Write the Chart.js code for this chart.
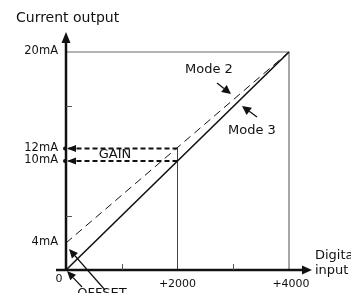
<!DOCTYPE html>
<html>
<head>
<meta charset="utf-8">
<script src="https://cdn.jsdelivr.net/npm/chart.js@4.4.1/dist/chart.umd.min.js"></script>
<style>
  html, body { margin: 0; padding: 0; background: #fff; }
</style>
</head>
<body>
<canvas id="chart" width="351" height="293"></canvas>
<script>
// digital input range and output current (mA) for each mode
const inputRange = [0, 4000];
const mode2Output = [4, 20];
const mode3Output = [0, 20];
const gainInput = 2000;
const gainOutputs = [12, 10];

const xTickValues = [0, 2000, 4000];
const xTickLabels = ['0', '+2000', '+4000'];
const xMinorTicks = [1000, 3000];
const yTickValues = [4, 10, 12, 20];
const yTickLabels = ['4mA', '10mA', '12mA', '20mA'];
const yMinorTicks = [6, 15.5];

// the y axis of the drawing is schematic, not to scale
const yStopValues = [0, 4, 10, 12, 20];
const yStopFractions = [0, 0.124, 0.5, 0.557, 1];

const FONT = '"DejaVu Sans", sans-serif';

class SchematicScale extends Chart.LinearScale {
    getPixelForValue(value) {
        if (value === null || isNaN(value)) return NaN;
        let dec = 0;
        for (let i = 1; i < yStopValues.length; i++) {
            if (value <= yStopValues[i] || i === yStopValues.length - 1) {
                const v0 = yStopValues[i - 1], v1 = yStopValues[i];
                const f0 = yStopFractions[i - 1], f1 = yStopFractions[i];
                dec = f0 + (f1 - f0) * (value - v0) / (v1 - v0);
                break;
            }
        }
        return this.getPixelForDecimal(dec);
    }
}
SchematicScale.id = 'schematic';
SchematicScale.defaults = {};
Chart.register(SchematicScale);

function pts(xs, ys) {
    return xs.map((x, i) => ({ x: x, y: ys[i] }));
}

function arrow(ctx, x1, y1, x2, y2, len, half, lw) {
    const ang = Math.atan2(y2 - y1, x2 - x1);
    const bx = x2 - Math.cos(ang) * len, by = y2 - Math.sin(ang) * len;
    if (lw) {
        ctx.lineWidth = lw;
        ctx.beginPath();
        ctx.moveTo(x1, y1);
        ctx.lineTo(bx, by);
        ctx.stroke();
    }
    ctx.beginPath();
    ctx.moveTo(x2, y2);
    ctx.lineTo(bx + Math.sin(ang) * half, by - Math.cos(ang) * half);
    ctx.lineTo(bx - Math.sin(ang) * half, by + Math.cos(ang) * half);
    ctx.closePath();
    ctx.fill();
}

const overlay = {
    id: 'overlay',
    afterDatasetsDraw(chart) {
        const { ctx, chartArea: a, scales: { x, y } } = chart;
        const x0 = x.getPixelForValue(0), y0 = y.getPixelForValue(0);
        ctx.save();
        ctx.strokeStyle = '#111';
        ctx.fillStyle = '#111';

        // axes with arrows
        arrow(ctx, x0, y0 + 1, x0, a.top - 20, 11, 4.5, 2.5);
        arrow(ctx, x0 - 10, y0, a.right + 23, y0, 10, 4.5, 2.5);

        // minor ticks
        ctx.lineWidth = 1;
        ctx.strokeStyle = '#555';
        xMinorTicks.forEach(v => {
            const px = Math.round(x.getPixelForValue(v)) + 0.5;
            ctx.beginPath(); ctx.moveTo(px, y0 - 6); ctx.lineTo(px, y0); ctx.stroke();
        });
        yMinorTicks.forEach(v => {
            const py = Math.round(y.getPixelForValue(v)) + 0.5;
            ctx.beginPath(); ctx.moveTo(x0, py); ctx.lineTo(x0 + 6, py); ctx.stroke();
        });

        // gain arrows pointing to the axis
        ctx.strokeStyle = '#111';
        ctx.fillStyle = '#111';
        gainOutputs.forEach(v => {
            const py = y.getPixelForValue(v);
            arrow(ctx, x0 + 10, py, x0 + 1, py, 9, 3.5, 0);
            ctx.beginPath(); ctx.arc(x0 - 1, py, 2, 0, Math.PI * 2); ctx.fill();
        });

        // tick labels
        ctx.font = '11.5px ' + FONT;
        ctx.textAlign = 'right';
        ctx.textBaseline = 'middle';
        yTickValues.forEach((v, i) => {
            ctx.fillText(yTickLabels[i], x0 - 8, y.getPixelForValue(v) - 1);
        });
        ctx.font = '11px ' + FONT;
        ctx.textAlign = 'center';
        xTickValues.forEach((v, i) => {
            const px = x.getPixelForValue(v);
            if (v === 0) ctx.fillText(xTickLabels[i], px - 7, y0 + 9);
            else ctx.fillText(xTickLabels[i], px + (i === xTickValues.length - 1 ? 2 : 0), y0 + 14);
        });

        // title and axis name
        ctx.textAlign = 'left';
        ctx.textBaseline = 'alphabetic';
        ctx.font = '14px ' + FONT;
        ctx.fillText('Current output', 16, 22);
        ctx.font = '13px ' + FONT;
        ctx.textBaseline = 'middle';
        ctx.fillText('Digital', a.right + 26, y0 - 14);
        ctx.fillText('input', a.right + 26, y0 + 1);

        // mode labels
        ctx.font = '13px ' + FONT;
        ctx.fillText('Mode 2', 185, 70);
        ctx.fillText('Mode 3', 228, 131);
        arrow(ctx, 217, 83, 231, 94, 9, 4.5, 1.3);
        arrow(ctx, 257, 117, 242, 106, 9, 4.5, 1.3);

        // gain label
        ctx.font = '13px ' + FONT;
        ctx.textAlign = 'center';
        ctx.fillText('GAIN', 115, 155);

        // offset label
        ctx.textBaseline = 'top';
        ctx.fillText('OFFSET', 102, 287);
        arrow(ctx, 82, 287, 67, 271, 9, 4, 1.2);
        arrow(ctx, 105, 290, 69, 249, 9, 4, 1.2);

        ctx.restore();
    }
};

new Chart(document.getElementById('chart'), {
    type: 'scatter',
    data: {
        datasets: [
            {
                label: 'Mode 3',
                data: pts(inputRange, mode3Output),
                showLine: true,
                borderColor: '#111',
                borderWidth: 1.6,
                clip: false
            },
            {
                label: 'Mode 2',
                data: pts(inputRange, mode2Output),
                showLine: true,
                borderColor: '#111',
                borderWidth: 1,
                borderDash: [8, 5],
                clip: false
            },
            {
                label: 'Gain 12mA',
                data: [{ x: gainInput, y: gainOutputs[0] }, { x: inputRange[0], y: gainOutputs[0] }],
                showLine: true,
                borderColor: '#111',
                borderWidth: 2,
                borderDash: [5, 3],
                clip: false
            },
            {
                label: 'Gain 10mA',
                data: [{ x: gainInput, y: gainOutputs[1] }, { x: inputRange[0], y: gainOutputs[1] }],
                showLine: true,
                borderColor: '#111',
                borderWidth: 2,
                borderDash: [5, 3],
                clip: false
            },
            {
                label: 'Gain drop',
                data: [{ x: gainInput, y: gainOutputs[0] }, { x: gainInput, y: 0 }],
                showLine: true,
                borderColor: '#444',
                borderWidth: 1,
                clip: false
            },
            {
                label: 'Full scale',
                data: [{ x: inputRange[0], y: 20 }, { x: inputRange[1], y: 20 }, { x: inputRange[1], y: 0 }],
                showLine: true,
                borderColor: '#6b6b6b',
                borderWidth: 1.2,
                clip: false
            }
        ]
    },
    options: {
        responsive: false,
        animation: false,
        events: [],
        layout: { padding: { left: 66, right: 62, top: 52, bottom: 23 } },
        elements: { point: { radius: 0 } },
        plugins: {
            legend: { display: false },
            tooltip: { enabled: false }
        },
        scales: {
            x: { type: 'linear', min: 0, max: 4000, display: false },
            y: { type: 'schematic', min: 0, max: 20, display: false }
        }
    },
    plugins: [overlay]
});
</script>
</body>
</html>
